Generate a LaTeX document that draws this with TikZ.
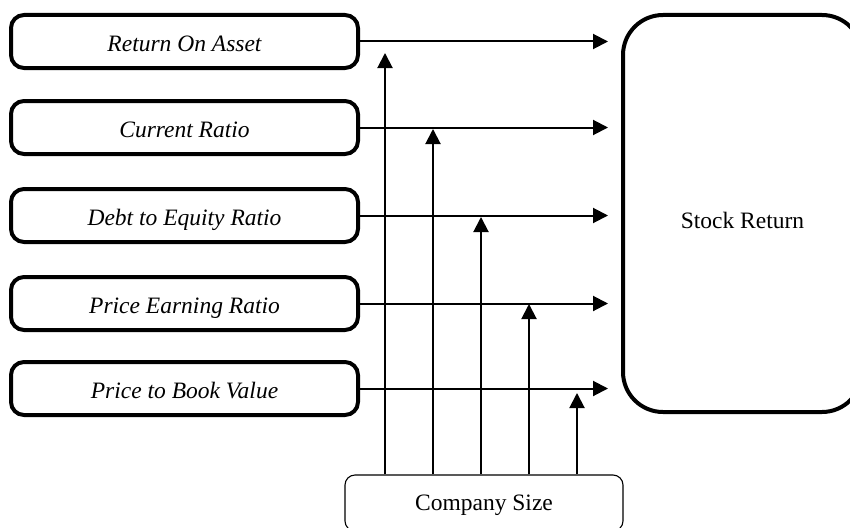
\documentclass[tikz,border=0pt]{standalone}
\usepackage{fontspec}
\setmainfont{Liberation Serif}
\usetikzlibrary{arrows.meta}
\begin{document}
\begin{tikzpicture}[x=1pt,y=-1pt,
  factor/.style={draw,line width=4pt,rounded corners=13pt,minimum width=347pt,minimum height=53pt,inner sep=0pt,text height=19.5pt,text depth=0pt,font=\fontsize{23.5}{28}\selectfont\itshape},
  target/.style={draw,line width=4pt,rounded corners=40pt,minimum width=239pt,minimum height=397pt,inner sep=0pt,text height=29pt,text depth=0pt,font=\fontsize{23.5}{28}\selectfont},
  moder/.style={draw,line width=1.1pt,rounded corners=10pt,minimum width=278pt,minimum height=56pt,inner sep=0pt,text height=15.5pt,text depth=0pt,font=\fontsize{23.5}{28}\selectfont},
  arr/.style={line width=2pt,-{Triangle[length=15pt,width=15pt]}}
]
\clip (0,0) rectangle (850,527);
\useasboundingbox (0,0) rectangle (850,527);
\node[factor] (b1) at (184.5,41.5) {Return On Asset};
\node[factor] (b2) at (184.5,127.5) {Current Ratio};
\node[factor] (b3) at (184.5,215.5) {Debt to Equity Ratio};
\node[factor] (b4) at (184.5,303.5) {Price Earning Ratio};
\node[factor] (b5) at (184.5,388.5) {Price to Book Value};
\node[target] (sr) at (742.5,213.5) {Stock Return};
\node[moder] (cs) at (484,503) {Company Size};
\foreach \i in {1,...,5}{
  \draw[arr,shorten >=13pt] (b\i.east) -- (b\i.east -| sr.west);
}
\coordinate (t1) at (385,53);
\coordinate (t2) at (433,129);
\coordinate (t3) at (481,217);
\coordinate (t4) at (529,304);
\coordinate (t5) at (577,393);
\foreach \i in {1,...,5}{
  \draw[arr] (cs.north -| t\i) -- (t\i);
}
\end{tikzpicture}
\end{document}
